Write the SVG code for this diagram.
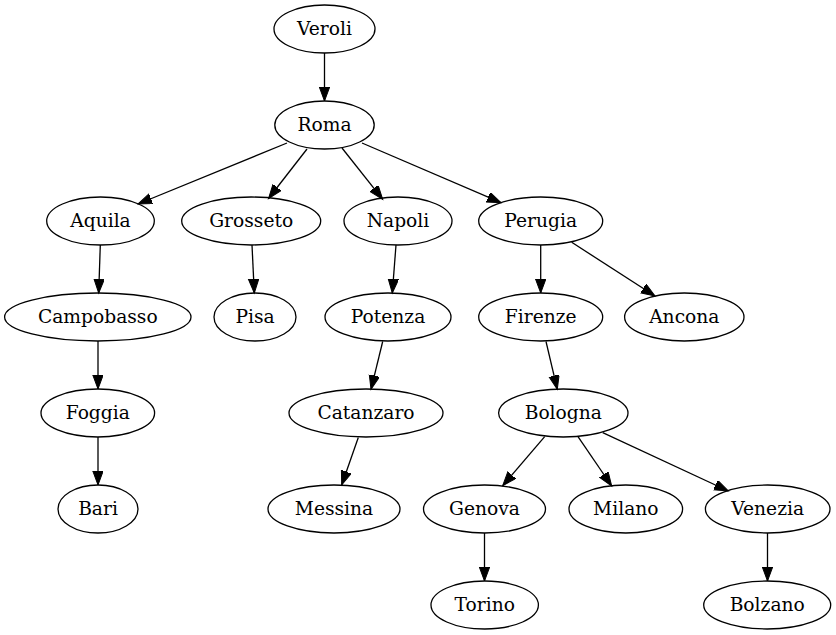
<svg xmlns="http://www.w3.org/2000/svg" width="836" height="635" viewBox="0 0 836 635">
<style>
.n ellipse{fill:none;stroke:#000;stroke-width:1.3}
.n text{font-family:"DejaVu Serif",serif;font-size:18.67px;text-anchor:middle;fill:#000}
#edges path{fill:none;stroke:#000;stroke-width:1.3;marker-end:url(#ah)}
</style>
<defs>
<marker id="ah" markerUnits="userSpaceOnUse" markerWidth="16" markerHeight="12" refX="14" refY="5.2" orient="auto">
<path d="M0,0 L14,5.2 L0,10.4 z" fill="#000" stroke="#000" stroke-width="1"/>
</marker>
</defs>
<rect width="836" height="635" fill="#fff"/>
<g id="edges">
<path d="M324.5,53 L324.5,101"/>
<path d="M287,143 L138,204"/>
<path d="M307,149 L268.5,198.5"/>
<path d="M342,148 L382.7,199.3"/>
<path d="M362,143 L501,202.7"/>
<path d="M100.3,245 L98.7,293"/>
<path d="M252,245 L254.3,293"/>
<path d="M396,245 L392.3,293"/>
<path d="M540.7,245 L540.7,293"/>
<path d="M571.7,242.3 L655,296"/>
<path d="M98,341 L98,389"/>
<path d="M382.7,341.5 L371,389.3"/>
<path d="M546,341.5 L557.3,389.3"/>
<path d="M98,437 L98,485"/>
<path d="M358.3,437.5 L341.7,485"/>
<path d="M544.7,436.7 L502.7,485.7"/>
<path d="M578,436.7 L611.7,486"/>
<path d="M602.7,432.7 L728.3,491"/>
<path d="M484.5,533 L484.5,581"/>
<path d="M767.5,533 L767.5,581"/>
</g>
<g id="Veroli" class="n"><ellipse cx="324.5" cy="29" rx="50.5" ry="24"/><text x="324.5" y="34.5">Veroli</text></g>
<g id="Roma" class="n"><ellipse cx="324.5" cy="125" rx="49.7" ry="24"/><text x="324.5" y="130.5">Roma</text></g>
<g id="Aquila" class="n"><ellipse cx="100.5" cy="221" rx="53.8" ry="24"/><text x="100.5" y="226.5">Aquila</text></g>
<g id="Grosseto" class="n"><ellipse cx="251.2" cy="221" rx="69.5" ry="24"/><text x="251.2" y="226.5">Grosseto</text></g>
<g id="Napoli" class="n"><ellipse cx="398" cy="221" rx="54" ry="24"/><text x="398" y="226.5">Napoli</text></g>
<g id="Perugia" class="n"><ellipse cx="540.7" cy="221" rx="62" ry="24"/><text x="540.7" y="226.5">Perugia</text></g>
<g id="Campobasso" class="n"><ellipse cx="97.8" cy="317" rx="93.2" ry="24"/><text x="97.8" y="322.5">Campobasso</text></g>
<g id="Pisa" class="n"><ellipse cx="255" cy="317" rx="41" ry="24"/><text x="255" y="322.5">Pisa</text></g>
<g id="Potenza" class="n"><ellipse cx="388" cy="317" rx="63" ry="24"/><text x="388" y="322.5">Potenza</text></g>
<g id="Firenze" class="n"><ellipse cx="540.7" cy="317" rx="62" ry="24"/><text x="540.7" y="322.5">Firenze</text></g>
<g id="Ancona" class="n"><ellipse cx="684.3" cy="317" rx="59.7" ry="24"/><text x="684.3" y="322.5">Ancona</text></g>
<g id="Foggia" class="n"><ellipse cx="97.8" cy="413" rx="56.8" ry="24"/><text x="97.8" y="418.5">Foggia</text></g>
<g id="Catanzaro" class="n"><ellipse cx="366" cy="413" rx="77" ry="24"/><text x="366" y="418.5">Catanzaro</text></g>
<g id="Bologna" class="n"><ellipse cx="563.3" cy="413" rx="64.7" ry="24"/><text x="563.3" y="418.5">Bologna</text></g>
<g id="Bari" class="n"><ellipse cx="98" cy="509" rx="40" ry="24"/><text x="98" y="514.5">Bari</text></g>
<g id="Messina" class="n"><ellipse cx="334" cy="509" rx="66" ry="24"/><text x="334" y="514.5">Messina</text></g>
<g id="Genova" class="n"><ellipse cx="484.5" cy="509" rx="61" ry="24"/><text x="484.5" y="514.5">Genova</text></g>
<g id="Milano" class="n"><ellipse cx="625.8" cy="509" rx="56.8" ry="24"/><text x="625.8" y="514.5">Milano</text></g>
<g id="Venezia" class="n"><ellipse cx="767.7" cy="509" rx="62.3" ry="24"/><text x="767.7" y="514.5">Venezia</text></g>
<g id="Torino" class="n"><ellipse cx="484.7" cy="605" rx="53.7" ry="24"/><text x="484.7" y="610.5">Torino</text></g>
<g id="Bolzano" class="n"><ellipse cx="767.2" cy="605" rx="63.5" ry="24"/><text x="767.2" y="610.5">Bolzano</text></g>
</svg>
